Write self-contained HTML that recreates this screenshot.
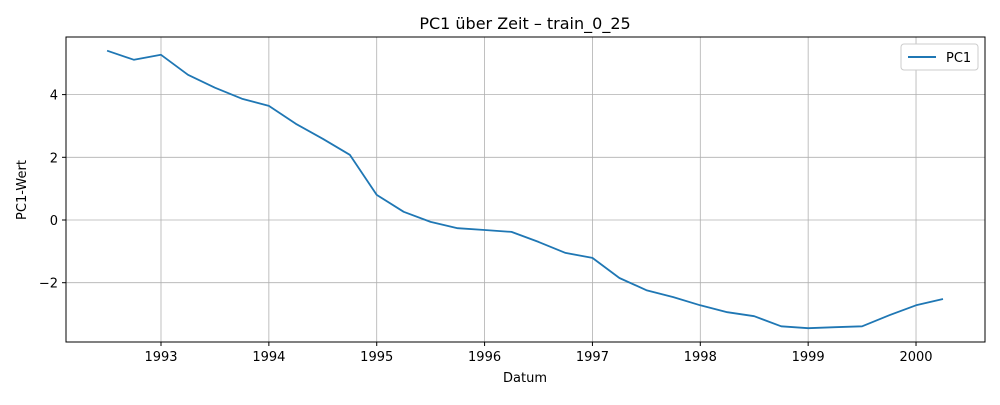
<!DOCTYPE html>
<html><head><meta charset="utf-8"><style>
body{margin:0;background:#fff;font-family:"Liberation Sans","DejaVu Sans",sans-serif;}
svg text{font-family:"DejaVu Sans","Liberation Sans",sans-serif;}
</style></head><body>
<svg id="chart" width="1000" height="400" xmlns="http://www.w3.org/2000/svg">
<rect width="1000" height="400" fill="#fff"/>
<g id="grid"></g>
<g id="ticks"></g>
<g id="series"></g>
<rect x="66" y="37" width="919" height="305" fill="none" stroke="#000" stroke-width="1"/>
<text x="525" y="29" font-size="16" text-anchor="middle">PC1 über Zeit – train_0_25</text>
<text x="525" y="382" font-size="13" text-anchor="middle">Datum</text>
<text x="26" y="190" font-size="13" text-anchor="middle" transform="rotate(-90 26 190)">PC1-Wert</text>
<g>
<rect x="901" y="44" width="77" height="26" rx="3" fill="#fff" stroke="#ccc"/>
<line x1="908" y1="57" x2="936" y2="57" stroke="#1f77b4" stroke-width="2"/>
<text x="946" y="62" font-size="13">PC1</text>
</g>
</svg>
<script>
const dates=[1992.5,1992.75,1993,1993.25,1993.5,1993.75,1994,1994.25,1994.5,1994.75,1995,1995.25,1995.5,1995.75,1996,1996.25,1996.5,1996.75,1997,1997.25,1997.5,1997.75,1998,1998.25,1998.5,1998.75,1999,1999.25,1999.5,1999.75,2000,2000.25];
const pc1=[5.40,5.11,5.27,4.63,4.22,3.87,3.64,3.07,2.59,2.08,0.80,0.26,-0.06,-0.26,-0.32,-0.38,-0.70,-1.05,-1.21,-1.85,-2.24,-2.46,-2.72,-2.94,-3.07,-3.39,-3.45,-3.42,-3.39,-3.04,-2.72,-2.52];
const xTicks=[1993,1994,1995,1996,1997,1998,1999,2000];
const yTicks=[-2,0,2,4];
const yLabels=["\u22122","0","2","4"];
const NS="http://www.w3.org/2000/svg";
function xs(v){return 161+(v-1993)*107.86;}
function ys(v){return 220-v*31.35;}
const grid=document.getElementById('grid'),ticks=document.getElementById('ticks'),ser=document.getElementById('series');
function mk(t,a,p){const e=document.createElementNS(NS,t);for(const k in a)e.setAttribute(k,a[k]);p.appendChild(e);return e;}
xTicks.forEach(t=>{
 const x=xs(t);
 const g=mk('line',{x1:x,x2:x,y1:37,y2:342,stroke:'#b0b0b0','stroke-width':0.8},grid);
 
 
 const tk=mk('line',{x1:x,x2:x,y1:342,y2:346,stroke:'#000'},ticks);
 
 
 const l=mk('text',{x:x,y:361,'font-size':13,'text-anchor':'middle'},ticks);
 l.textContent=t;
 
 
});
yTicks.forEach((t,i)=>{
 const y=ys(t);
 const g=mk('line',{x1:66,x2:985,y1:y,y2:y,stroke:'#b0b0b0','stroke-width':0.8},grid);
 
 
 const tk=mk('line',{x1:62,x2:66,y1:y,y2:y,stroke:'#000'},ticks);
 
 
 const l=mk('text',{x:58,y:y+5,'font-size':13,'text-anchor':'end'},ticks);
 l.textContent=yLabels[i];
 
 
});
const pts=dates.map((d,i)=>xs(d).toFixed(1)+','+ys(pc1[i]).toFixed(1)).join(' ');
const line=mk('polyline',{points:pts,fill:'none',stroke:'#1f77b4','stroke-width':1.8,'stroke-linejoin':'round'},ser);


</script>
</body></html>
